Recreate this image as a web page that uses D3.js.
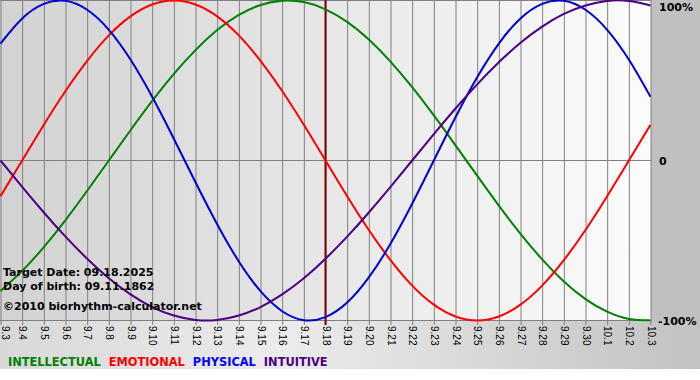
<!DOCTYPE html>
<html>
<head>
<meta charset="utf-8">
<script src="https://cdn.jsdelivr.net/npm/d3@7"></script>
<style>
  body { margin: 0; background: #fff; }
  svg { display: block; font-family: "DejaVu Sans", Verdana, sans-serif; }
</style>
</head>
<body>
<div id="my_dataviz"></div>
<script>
// Даты по оси X (сентябрь 3 - октябрь 3)
var dayLabels = ["9.3", "9.4", "9.5", "9.6", "9.7", "9.8", "9.9", "9.10", "9.11", "9.12",
  "9.13", "9.14", "9.15", "9.16", "9.17", "9.18", "9.19", "9.20", "9.21", "9.22",
  "9.23", "9.24", "9.25", "9.26", "9.27", "9.28", "9.29", "9.30", "10.1", "10.2", "10.3"]

// Значения ритмов, %
var physical = [73.1, 88.8, 97.9, 99.8, 94.2, 81.7, 63.1, 39.8, 13.6, -13.6, -39.8, -63.1, -81.7, -94.2, -99.8, -97.9,
  -88.8, -73.1, -52.0, -27.0, 0, 27.0, 52.0, 73.1, 88.8, 97.9, 99.8, 94.2, 81.7, 63.1, 39.8]
var emotional = [-22.3, 0, 22.3, 43.4, 62.3, 78.2, 90.1, 97.5, 100, 97.5, 90.1, 78.2, 62.3, 43.4, 22.3, 0,
  -22.3, -43.4, -62.3, -78.2, -90.1, -97.5, -100, -97.5, -90.1, -78.2, -62.3, -43.4, -22.3, 0, 22.3]
var intellectual = [-81.5, -69.0, -54.1, -37.2, -18.9, 0, 18.9, 37.2, 54.1, 69.0, 81.5, 91.0, 97.2, 99.9, 99.0, 94.5,
  86.6, 75.6, 61.8, 45.8, 28.2, 9.5, -9.5, -28.2, -45.8, -61.8, -75.6, -86.6, -94.5, -99.0, -99.9]
var intuitive = [0, -16.5, -32.5, -47.6, -61.4, -73.6, -83.7, -91.6, -96.9, -99.7, -99.7, -96.9, -91.6, -83.7, -73.6, -61.4,
  -47.6, -32.5, -16.5, 0, 16.5, 32.5, 47.6, 61.4, 73.6, 83.7, 91.6, 96.9, 99.7, 99.7, 96.9]

var seriesNames = ["INTELLECTUAL", "EMOTIONAL", "PHYSICAL", "INTUITIVE"]
var seriesValues = [intellectual, emotional, physical, intuitive]
var seriesColors = ["#008000", "#ff0000", "#0000cc", "#4b0082"]
var legendColors = ["#008000", "#ff0000", "#0000ff", "#4b0082"]

var targetIndex = 15
var infoLines = ["Target Date: 09.18.2025", "Day of birth: 09.11.1862", "\u00a92010 biorhythm-calculator.net"]
var yLabels = [[100, "100%"], [0, "0"], [-100, "-100%"]]

var W = 700, H = 380,
  plotW = 651, plotH = 321, bottomH = 369

var svg = d3.select("#my_dataviz")
  .append("svg")
  .attr("width", W)
  .attr("height", H)

// градиенты фона
var defs = svg.append("defs")
var g1 = defs.append("linearGradient").attr("id", "plotBg")
g1.append("stop").attr("offset", "0%").attr("stop-color", "#d2d2d2")
g1.append("stop").attr("offset", "100%").attr("stop-color", "#fcfcfc")
var g2 = defs.append("linearGradient").attr("id", "bottomBg")
g2.append("stop").attr("offset", "0%").attr("stop-color", "#d8d8d8")
g2.append("stop").attr("offset", "40%").attr("stop-color", "#ececec")
g2.append("stop").attr("offset", "100%").attr("stop-color", "#c2c2c2")
defs.append("clipPath").attr("id", "clip")
  .append("rect").attr("width", plotW).attr("height", plotH + 1)

svg.append("rect").attr("x", 0).attr("y", plotH).attr("width", W).attr("height", bottomH - plotH)
  .style("fill", "url(#bottomBg)")
svg.append("rect").attr("x", plotW).attr("y", 0).attr("width", W - plotW).attr("height", plotH)
  .style("fill", "#c0c0c0")
svg.append("rect").attr("width", plotW).attr("height", plotH)
  .style("fill", "url(#plotBg)")

// Шкалы
var x = d3.scaleLinear()
  .domain([0, dayLabels.length - 1])
  .range([0.5, plotW - 0.5])
var y = d3.scaleLinear()
  .domain([-100, 100])
  .range([plotH - 0.5, 0.5])

// вертикальная сетка + подписи дат
var xAxis = svg.append("g")
  .attr("transform", "translate(0," + plotH + ")")
  .call(d3.axisBottom(x)
    .tickValues(d3.range(dayLabels.length))
    .tickFormat(function(i) { return dayLabels[i] })
    .tickSizeInner(-plotH)
    .tickSizeOuter(0)
    .tickPadding(0))
xAxis.select(".domain").remove()
xAxis.selectAll("line")
  .attr("y1", 4)
  .style("stroke", "#808080")
xAxis.selectAll("text")
  .attr("transform", "rotate(90)")
  .attr("x", 5)
  .attr("y", function(i) { return i === 0 ? -4 : 0 }) // первую подпись чуть сдвигаем, чтобы не обрезалась
  .attr("dy", "0.35em")
  .style("text-anchor", "start")
  .style("font-size", "10px")
  .style("fill", "#000")

// горизонтальные линии 100 / 0 / -100
svg.selectAll(".hgrid")
  .data(yLabels)
  .enter()
  .append("line")
  .attr("x1", 0)
  .attr("x2", plotW)
  .attr("y1", function(d) { return y(d[0]) })
  .attr("y2", function(d) { return y(d[0]) })
  .style("stroke", "#808080")

// подписи справа
svg.selectAll(".ylab")
  .data(yLabels)
  .enter()
  .append("text")
  .attr("x", function(d) { return d[0] < 0 ? plotW + 7 : plotW + 8 })
  .attr("y", function(d) { return y(d[0]) + 4 + (d[0] > 0 ? 6 : 0) })
  .text(function(d) { return d[1] })
  .style("font-size", "11px")
  .style("font-weight", "bold")
  .style("fill", "#000")

// линия целевой даты
svg.append("line")
  .attr("x1", x(targetIndex))
  .attr("x2", x(targetIndex))
  .attr("y1", 0)
  .attr("y2", plotH + 4)
  .style("stroke", "#800000")
  .style("stroke-width", 2)

// кривые
var line = d3.line()
  .x(function(d, i) { return x(i) })
  .y(function(d) { return y(d) })
  .curve(d3.curveNatural)

svg.append("g")
  .attr("clip-path", "url(#clip)")
  .selectAll("path")
  .data(seriesValues)
  .enter()
  .append("path")
  .attr("d", line)
  .style("fill", "none")
  .style("stroke", function(d, i) { return seriesColors[i] })
  .style("stroke-width", 2)

// текст слева внизу
svg.selectAll(".info")
  .data(infoLines)
  .enter()
  .append("text")
  .attr("x", 3)
  .attr("y", function(d, i) { return [276, 290, 310][i] })
  .text(function(d) { return d })
  .style("font-size", "11px")
  .style("font-weight", "bold")
  .style("fill", "#000")

// легенда
var lx = 8
seriesNames.forEach(function(name, i) {
  var t = svg.append("text")
    .attr("x", lx)
    .attr("y", 366)
    .text(name)
    .style("font-size", "11.4px")
    .style("font-weight", "bold")
    .style("fill", legendColors[i])
  lx += t.node().getComputedTextLength() + 8
})
</script>
</body>
</html>
